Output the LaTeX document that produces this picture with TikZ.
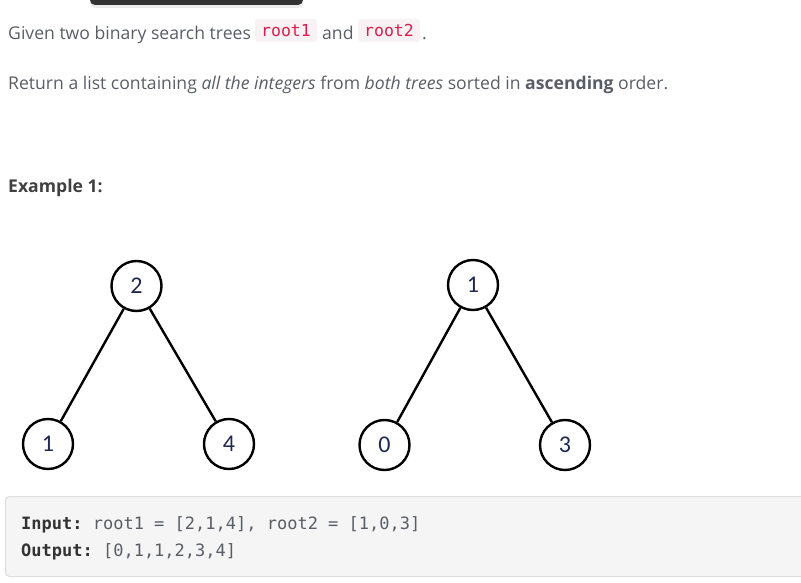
\documentclass[tikz,border=0pt]{standalone}
\usepackage{fontspec}
\setmainfont{Open Sans}
\setmonofont{DejaVu Sans Mono}
\newfontfamily\treefont{Carlito}
\usetikzlibrary{shadows}
\definecolor{txt}{RGB}{89,94,102}
\definecolor{codefg}{RGB}{214,33,78}
\definecolor{codebg}{RGB}{249,242,244}
\definecolor{blockbg}{RGB}{245,245,245}
\definecolor{blockbd}{RGB}{222,222,222}
\definecolor{bar}{RGB}{51,51,51}
\definecolor{digit}{RGB}{30,40,80}
\tikzset{
  para/.style={anchor=base west, inner sep=0pt, text=txt, font=\fontsize{17.6}{20}\selectfont},
  icode/.style={fill=codebg, rounded corners=3pt, minimum width=62pt, minimum height=23pt, inner sep=0pt, text=codefg, font=\ttfamily\fontsize{16.5}{18}\selectfont},
  blk/.style={anchor=base west, inner sep=0pt, text=txt, font=\ttfamily\fontsize{17}{19}\selectfont},
  tnode/.style={circle, draw=black, line width=2.4pt, minimum size=50pt, inner sep=0pt, text=digit, font=\treefont\fontsize{24}{26}\selectfont},
  tedge/.style={draw=black, line width=2.4pt},
}
\begin{document}
\begin{tikzpicture}[x=1pt,y=-1pt]
\useasboundingbox (0,0) rectangle (801,583);
% top dark bar
\fill[bar, rounded corners=5pt, drop shadow={shadow xshift=0pt, shadow yshift=-3pt, opacity=0.15}] (90,-10) rectangle (303,5);
% paragraph 1
\node[para] (p1) at (8,40) {Given two binary search trees};
\node[icode] (c1) at (286,30.5) {root1};
\node[para] (p1b) at (322,40) {and};
\node[icode] (c2) at (389,30.5) {root2};
\node[para] (p1c) at (422,40) {.};
% paragraph 2
\node[para] (p2) at (8,90) {Return a list containing \textit{all the integers} from \textit{both trees} sorted in \textbf{ascending} order.};
% heading
\node[para, text=black!75] (ex) at (8,193) {\textbf{Example 1:}};
% tree 1
\node[tnode] (a2) at (136.5,286) {2};
\node[tnode] (a1) at (48,444) {1};
\node[tnode] (a4) at (229,444) {4};
\path[tedge] (a2) -- (a1);
\path[tedge] (a2) -- (a4);
% tree 2
\node[tnode] (b1) at (473,285) {1};
\node[tnode] (b0) at (384.5,445) {0};
\node[tnode] (b3) at (565,445) {3};
\path[tedge] (b1) -- (b0);
\path[tedge] (b1) -- (b3);
% code block
\node[draw=blockbd, fill=blockbg, rounded corners=4pt, minimum width=801pt, minimum height=80pt, anchor=north west, inner sep=0pt, line width=1pt] (blk) at (5,496) {};
\node[blk] (in) at (21,529) {\textcolor{black!80}{\textbf{Input:}} root1 = [2,1,4], root2 = [1,0,3]};
\node[blk] (out) at (21,556) {\textcolor{black!80}{\textbf{Output:}} [0,1,1,2,3,4]};
\end{tikzpicture}
\end{document}
